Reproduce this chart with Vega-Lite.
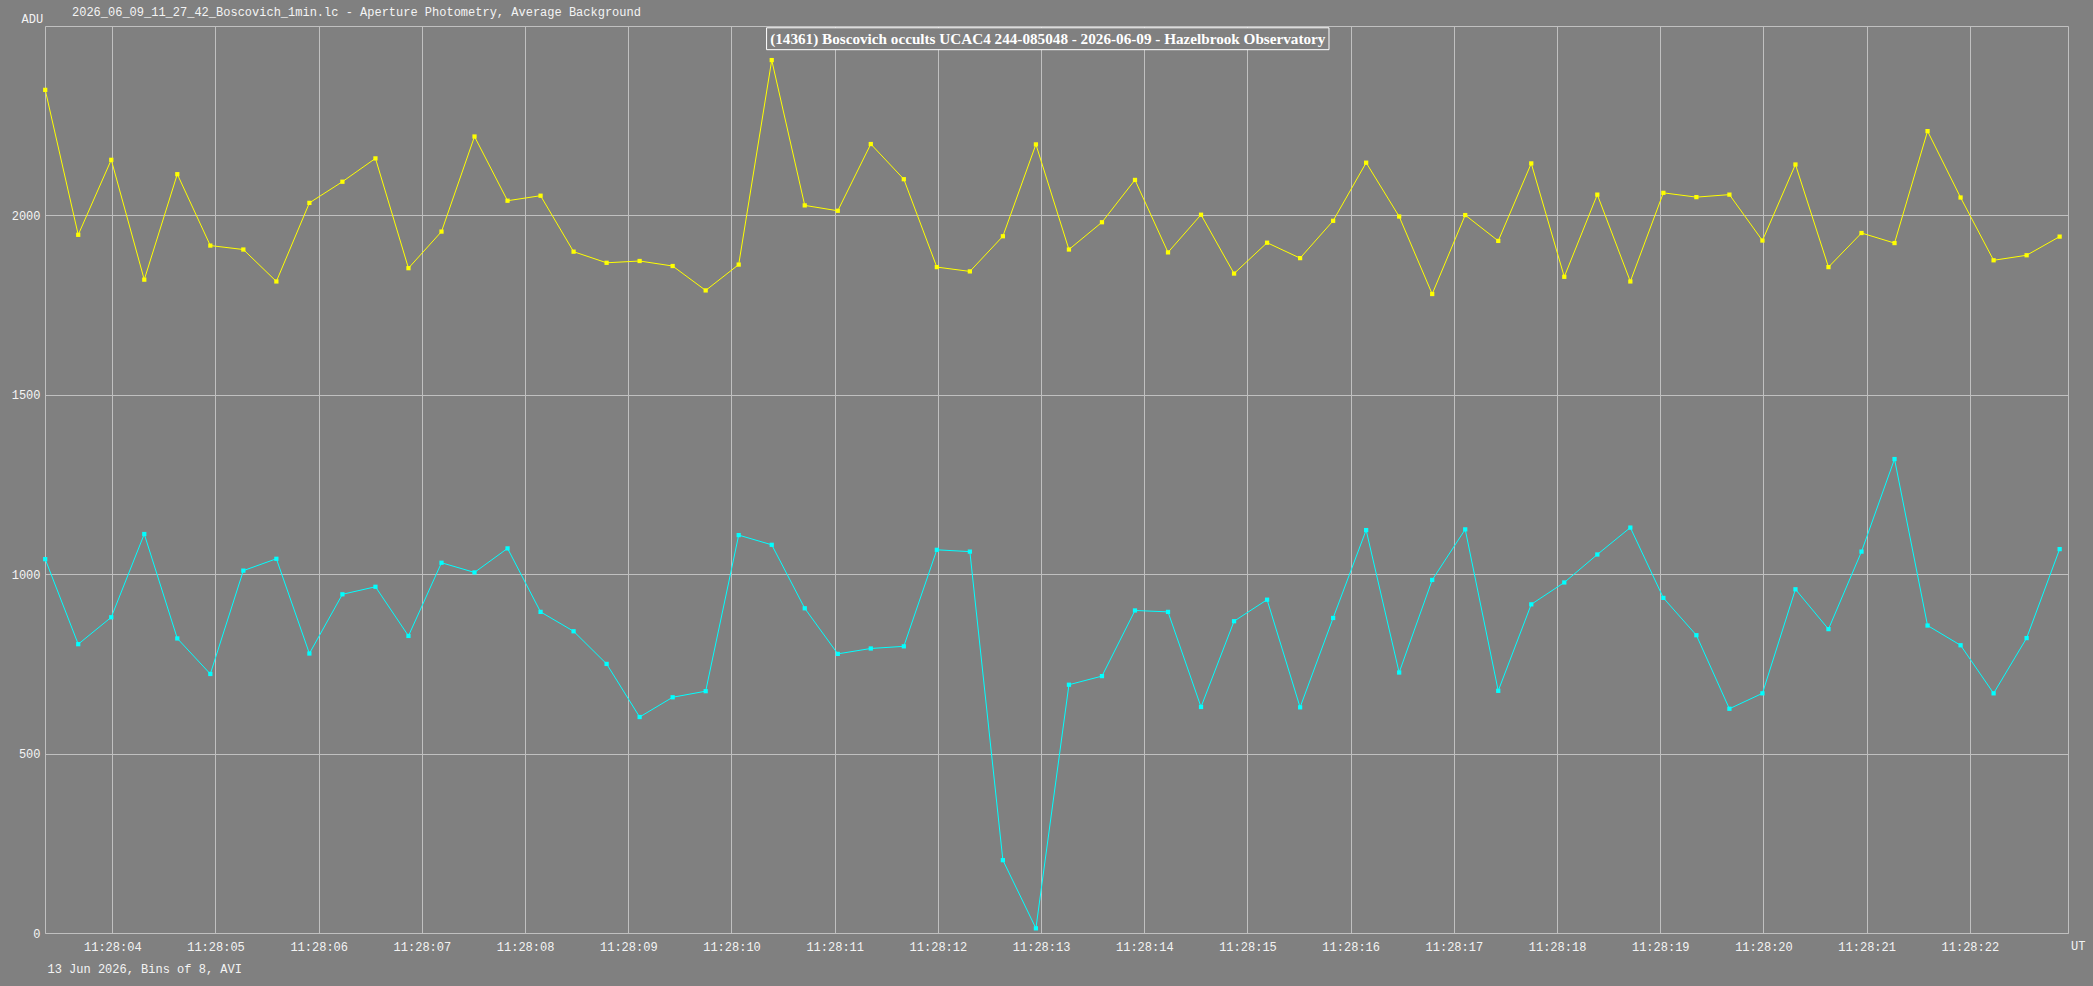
{
  "$schema": "https://vega.github.io/schema/vega-lite/v6.json",
  "autosize": {"type": "none"},
  "padding": {"left": 45, "top": 26, "right": 25, "bottom": 53},
  "width": 2023,
  "height": 907,
  "background": "#808080",
  "title": {
    "text": "2026_06_09_11_27_42_Boscovich_1min.lc - Aperture Photometry, Average Background",
    "anchor": "start",
    "frame": "group",
    "font": "Liberation Mono",
    "fontSize": 12,
    "fontWeight": "normal",
    "color": "#f4f4f4",
    "baseline": "middle",
    "offset": 0,
    "dx": 27,
    "dy": 12
  },
  "config": {
    "view": {"stroke": "#c0c0c0", "strokeWidth": 1},
    "axis": {
      "grid": true,
      "gridColor": "#c0c0c0",
      "gridOpacity": 1,
      "gridWidth": 1,
      "domain": false,
      "ticks": false,
      "tickSize": 0,
      "labelFont": "Liberation Mono",
      "labelFontSize": 12,
      "labelColor": "#f4f4f4",
      "titleFont": "Liberation Mono",
      "titleFontSize": 12,
      "titleFontWeight": "normal",
      "titleColor": "#f4f4f4"
    }
  },
  "datasets": {
    "lc": [
      {"t": 3.35, "star": "comparison", "adu": 2350}, {"t": 3.67, "star": "comparison", "adu": 1946},
      {"t": 3.99, "star": "comparison", "adu": 2155}, {"t": 4.31, "star": "comparison", "adu": 1821},
      {"t": 4.63, "star": "comparison", "adu": 2115}, {"t": 4.95, "star": "comparison", "adu": 1916},
      {"t": 5.27, "star": "comparison", "adu": 1905}, {"t": 5.59, "star": "comparison", "adu": 1816},
      {"t": 5.91, "star": "comparison", "adu": 2035}, {"t": 6.23, "star": "comparison", "adu": 2094},
      {"t": 6.55, "star": "comparison", "adu": 2159}, {"t": 6.87, "star": "comparison", "adu": 1853},
      {"t": 7.19, "star": "comparison", "adu": 1955}, {"t": 7.51, "star": "comparison", "adu": 2220},
      {"t": 7.83, "star": "comparison", "adu": 2041}, {"t": 8.15, "star": "comparison", "adu": 2055},
      {"t": 8.47, "star": "comparison", "adu": 1899}, {"t": 8.79, "star": "comparison", "adu": 1868},
      {"t": 9.11, "star": "comparison", "adu": 1873}, {"t": 9.43, "star": "comparison", "adu": 1859},
      {"t": 9.75, "star": "comparison", "adu": 1791}, {"t": 10.07, "star": "comparison", "adu": 1863},
      {"t": 10.39, "star": "comparison", "adu": 2433}, {"t": 10.71, "star": "comparison", "adu": 2028},
      {"t": 11.03, "star": "comparison", "adu": 2013}, {"t": 11.35, "star": "comparison", "adu": 2199},
      {"t": 11.67, "star": "comparison", "adu": 2101}, {"t": 11.99, "star": "comparison", "adu": 1856},
      {"t": 12.31, "star": "comparison", "adu": 1844}, {"t": 12.63, "star": "comparison", "adu": 1942},
      {"t": 12.95, "star": "comparison", "adu": 2198}, {"t": 13.27, "star": "comparison", "adu": 1905},
      {"t": 13.59, "star": "comparison", "adu": 1981}, {"t": 13.91, "star": "comparison", "adu": 2099},
      {"t": 14.23, "star": "comparison", "adu": 1897}, {"t": 14.55, "star": "comparison", "adu": 2002},
      {"t": 14.87, "star": "comparison", "adu": 1838}, {"t": 15.19, "star": "comparison", "adu": 1924},
      {"t": 15.51, "star": "comparison", "adu": 1881}, {"t": 15.83, "star": "comparison", "adu": 1985},
      {"t": 16.15, "star": "comparison", "adu": 2147}, {"t": 16.47, "star": "comparison", "adu": 1997},
      {"t": 16.79, "star": "comparison", "adu": 1781}, {"t": 17.11, "star": "comparison", "adu": 2001},
      {"t": 17.43, "star": "comparison", "adu": 1929}, {"t": 17.75, "star": "comparison", "adu": 2145},
      {"t": 18.07, "star": "comparison", "adu": 1829}, {"t": 18.39, "star": "comparison", "adu": 2058},
      {"t": 18.71, "star": "comparison", "adu": 1816}, {"t": 19.03, "star": "comparison", "adu": 2063},
      {"t": 19.35, "star": "comparison", "adu": 2051}, {"t": 19.67, "star": "comparison", "adu": 2058},
      {"t": 19.99, "star": "comparison", "adu": 1930}, {"t": 20.31, "star": "comparison", "adu": 2142},
      {"t": 20.63, "star": "comparison", "adu": 1856}, {"t": 20.95, "star": "comparison", "adu": 1951},
      {"t": 21.27, "star": "comparison", "adu": 1923}, {"t": 21.59, "star": "comparison", "adu": 2235},
      {"t": 21.91, "star": "comparison", "adu": 2050}, {"t": 22.23, "star": "comparison", "adu": 1875},
      {"t": 22.55, "star": "comparison", "adu": 1889}, {"t": 22.87, "star": "comparison", "adu": 1941},
      {"t": 3.35, "star": "target", "adu": 1042}, {"t": 3.67, "star": "target", "adu": 805},
      {"t": 3.99, "star": "target", "adu": 880}, {"t": 4.31, "star": "target", "adu": 1112},
      {"t": 4.63, "star": "target", "adu": 821}, {"t": 4.95, "star": "target", "adu": 722},
      {"t": 5.27, "star": "target", "adu": 1010}, {"t": 5.59, "star": "target", "adu": 1043},
      {"t": 5.91, "star": "target", "adu": 779}, {"t": 6.23, "star": "target", "adu": 944},
      {"t": 6.55, "star": "target", "adu": 965}, {"t": 6.87, "star": "target", "adu": 828},
      {"t": 7.19, "star": "target", "adu": 1032}, {"t": 7.51, "star": "target", "adu": 1005},
      {"t": 7.83, "star": "target", "adu": 1072}, {"t": 8.15, "star": "target", "adu": 895},
      {"t": 8.47, "star": "target", "adu": 841}, {"t": 8.79, "star": "target", "adu": 750},
      {"t": 9.11, "star": "target", "adu": 602}, {"t": 9.43, "star": "target", "adu": 657},
      {"t": 9.75, "star": "target", "adu": 674}, {"t": 10.07, "star": "target", "adu": 1109},
      {"t": 10.39, "star": "target", "adu": 1082}, {"t": 10.71, "star": "target", "adu": 905},
      {"t": 11.03, "star": "target", "adu": 778}, {"t": 11.35, "star": "target", "adu": 793},
      {"t": 11.67, "star": "target", "adu": 799}, {"t": 11.99, "star": "target", "adu": 1068},
      {"t": 12.31, "star": "target", "adu": 1063}, {"t": 12.63, "star": "target", "adu": 203},
      {"t": 12.95, "star": "target", "adu": 13}, {"t": 13.27, "star": "target", "adu": 692},
      {"t": 13.59, "star": "target", "adu": 716}, {"t": 13.91, "star": "target", "adu": 899},
      {"t": 14.23, "star": "target", "adu": 895}, {"t": 14.55, "star": "target", "adu": 630},
      {"t": 14.87, "star": "target", "adu": 869}, {"t": 15.19, "star": "target", "adu": 929},
      {"t": 15.51, "star": "target", "adu": 629}, {"t": 15.83, "star": "target", "adu": 878},
      {"t": 16.15, "star": "target", "adu": 1123}, {"t": 16.47, "star": "target", "adu": 726},
      {"t": 16.79, "star": "target", "adu": 984}, {"t": 17.11, "star": "target", "adu": 1125},
      {"t": 17.43, "star": "target", "adu": 675}, {"t": 17.75, "star": "target", "adu": 916},
      {"t": 18.07, "star": "target", "adu": 977}, {"t": 18.39, "star": "target", "adu": 1055},
      {"t": 18.71, "star": "target", "adu": 1130}, {"t": 19.03, "star": "target", "adu": 934},
      {"t": 19.35, "star": "target", "adu": 830}, {"t": 19.67, "star": "target", "adu": 625},
      {"t": 19.99, "star": "target", "adu": 668}, {"t": 20.31, "star": "target", "adu": 958},
      {"t": 20.63, "star": "target", "adu": 847}, {"t": 20.95, "star": "target", "adu": 1063},
      {"t": 21.27, "star": "target", "adu": 1321}, {"t": 21.59, "star": "target", "adu": 857},
      {"t": 21.91, "star": "target", "adu": 802}, {"t": 22.23, "star": "target", "adu": 668},
      {"t": 22.55, "star": "target", "adu": 822}, {"t": 22.87, "star": "target", "adu": 1070}
    ],
    "note": [{"label": "annotation"}]
  },
  "layer": [
    {
      "data": {"name": "lc"},
      "mark": {
        "type": "line",
        "strokeWidth": 1,
        "point": {"shape": "square", "size": 18, "filled": true, "opacity": 1}
      },
      "encoding": {
        "x": {
          "field": "t",
          "type": "quantitative",
          "scale": {"domain": [3.348, 22.951], "nice": false, "zero": false},
          "axis": {
            "values": [4, 5, 6, 7, 8, 9, 10, 11, 12, 13, 14, 15, 16, 17, 18, 19, 20, 21, 22],
            "labelExpr": "'11:28:' + (datum.value < 10 ? '0' : '') + datum.value",
            "labelPadding": 8,
            "labelFlush": false,
            "labelOverlap": false,
            "title": "13 Jun 2026, Bins of 8, AVI",
            "titleX": 2,
            "titleY": 35,
            "titleAlign": "left",
            "titleBaseline": "middle",
            "titleAngle": 0
          }
        },
        "y": {
          "field": "adu",
          "type": "quantitative",
          "scale": {"domain": [0, 2528], "nice": false},
          "axis": {
            "values": [0, 500, 1000, 1500, 2000],
            "format": "d",
            "labelPadding": 5,
            "title": "ADU",
            "titleAngle": 0,
            "titleX": -24,
            "titleY": -8,
            "titleAlign": "left",
            "titleBaseline": "middle"
          }
        },
        "color": {
          "field": "star",
          "type": "nominal",
          "scale": {"domain": ["comparison", "target"], "range": ["#ffff00", "#00ffff"]},
          "legend": null
        }
      }
    },
    {
      "data": {"name": "note"},
      "mark": {"type": "rect", "fill": "#808080", "stroke": "#ffffff", "strokeWidth": 1},
      "encoding": {
        "x": {"datum": 10.34},
        "x2": {"datum": 15.79},
        "y": {"datum": 2523},
        "y2": {"datum": 2462}
      }
    },
    {
      "data": {"name": "note"},
      "mark": {
        "type": "text",
        "font": "Liberation Serif",
        "fontWeight": "bold",
        "fontSize": 15.2,
        "color": "#ffffff",
        "align": "center",
        "baseline": "middle"
      },
      "encoding": {
        "x": {"datum": 13.065},
        "y": {"datum": 2492},
        "text": {"value": "(14361) Boscovich occults UCAC4 244-085048 - 2026-06-09 - Hazelbrook Observatory"}
      }
    },
    {
      "data": {"name": "note"},
      "mark": {
        "type": "text",
        "font": "Liberation Mono",
        "fontSize": 12,
        "color": "#f4f4f4",
        "align": "left",
        "baseline": "middle",
        "dx": 3,
        "dy": 13
      },
      "encoding": {
        "x": {"datum": 22.951},
        "y": {"datum": 0},
        "text": {"value": "UT"}
      }
    }
  ]
}
